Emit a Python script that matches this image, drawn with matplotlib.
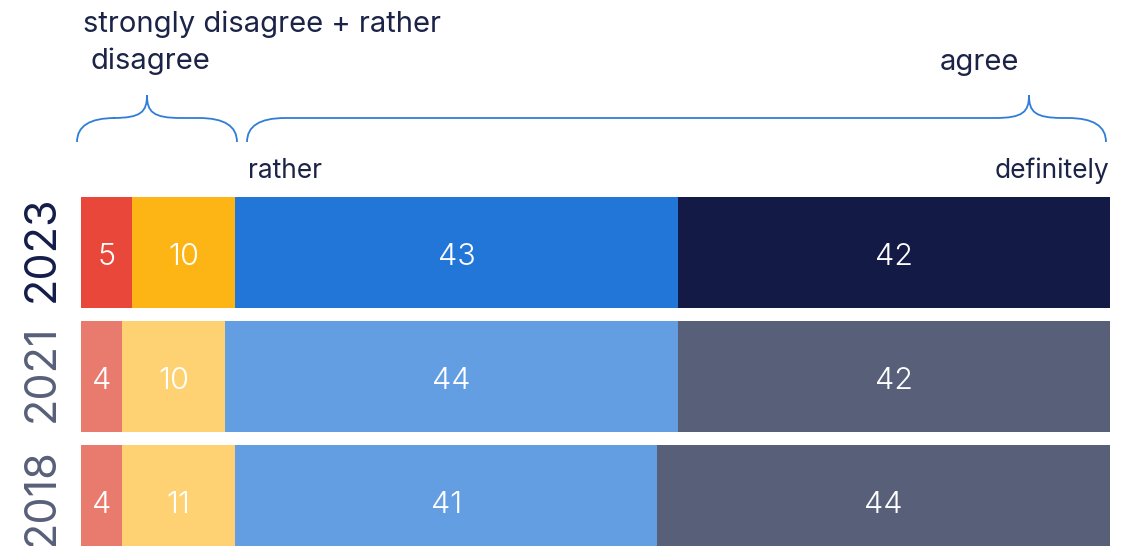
import matplotlib.pyplot as plt
from matplotlib.path import Path
from matplotlib.patches import PathPatch

plt.rcParams['font.family'] = ['Inter', 'DejaVu Sans']

years = ["2023", "2021", "2018"]
strongly_disagree = [5, 4, 4]
rather_disagree = [10, 10, 11]
rather_agree = [43, 44, 41]
definitely_agree = [42, 42, 44]

series = [strongly_disagree, rather_disagree, rather_agree, definitely_agree]
colors_2023 = ["#E8473A", "#FDB515", "#2176D8", "#121A45"]
colors_old = ["#E97B6E", "#FED272", "#639EE2", "#586079"]
year_colors = ["#141D4A", "#586079", "#586079"]
text_col = "#1B2347"

W, H = 1135, 546
fig = plt.figure(figsize=(W / 100, H / 100), dpi=100)

# bars axis: x 81..1110 px, 124 px per row, 2023 centre at 252.5 px
ax = fig.add_axes([81 / W, 0, (1110 - 81) / W, 1])
ax.set_xlim(0, 100)
ax.set_ylim((H - 252.5) / 124, -252.5 / 124)
ax.axis("off")

for i, year in enumerate(years):
    left = 0
    cols = colors_2023 if i == 0 else colors_old
    for s, vals in enumerate(series):
        v = vals[i]
        ax.barh(i, v, left=left, height=0.895, color=cols[s], linewidth=0)
        ax.text(left + v / 2, i + 0.035, str(v), ha="center", va="center",
                color="white", fontsize=22, fontweight=300)
        left += v
    ax.text(-3.75, i - 0.03, year, rotation=90, ha="center", va="center",
            color=year_colors[i], fontsize=31)

# overlay in pixel coordinates for the braces and header texts
ov = fig.add_axes([0, 0, 1, 1], facecolor="none")
ov.set_xlim(0, W)
ov.set_ylim(H, 0)
ov.axis("off")


def brace(x0, x1, xt, yb=142, yl=118, yt=95, r=38, rt=34):
    verts = [(x0, yb), (x0, yl), (x0 + r, yl),
             (xt - rt, yl),
             (xt - 6, yl), (xt, yl - 6), (xt, yt),
             (xt, yl - 6), (xt + 6, yl), (xt + rt, yl),
             (x1 - r, yl),
             (x1, yl), (x1, yb)]
    codes = [Path.MOVETO, Path.CURVE3, Path.CURVE3,
             Path.LINETO,
             Path.CURVE4, Path.CURVE4, Path.CURVE4,
             Path.CURVE4, Path.CURVE4, Path.CURVE4,
             Path.LINETO,
             Path.CURVE3, Path.CURVE3]
    ov.add_patch(PathPatch(Path(verts, codes), fill=False,
                           edgecolor="#2F7DD9", lw=1.3))


brace(77, 237, 147)
brace(247, 1106, 1029)

ov.text(83, 24, "strongly disagree + rather", ha="left", va="center",
        fontsize=21, color=text_col)
ov.text(91, 61, "disagree", ha="left", va="center",
        fontsize=21, color=text_col)
ov.text(979, 63, "agree", ha="center", va="center",
        fontsize=21, color=text_col)
ov.text(248, 171, "rather", ha="left", va="center",
        fontsize=19, color=text_col)
ov.text(1109, 171, "definitely", ha="right", va="center",
        fontsize=19, color=text_col)

fig.savefig("out.png", dpi=100)
